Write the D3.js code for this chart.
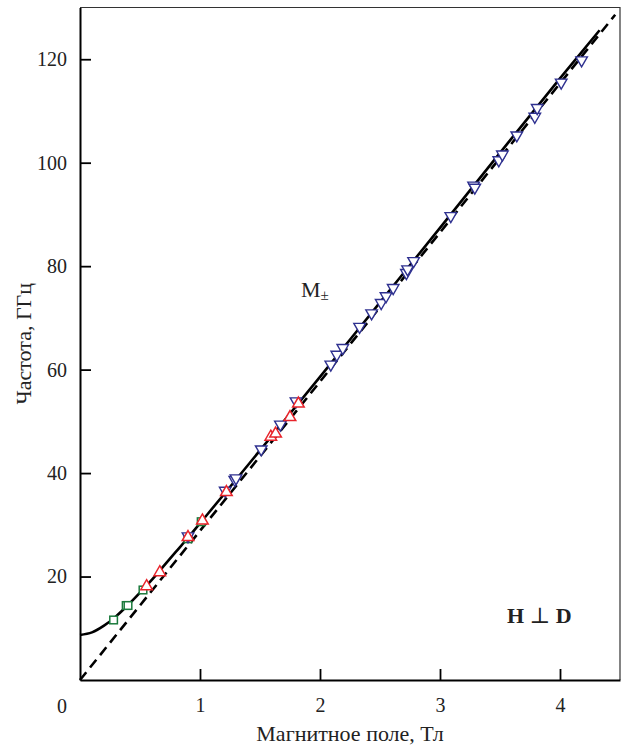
<!DOCTYPE html>
<html>
<head>
<meta charset="utf-8">
<script src="https://cdn.jsdelivr.net/npm/d3@7"></script>
<style>
  body { margin: 0; background: #fff; }
  text { font-family: "Liberation Serif", "DejaVu Serif", serif; }
</style>
</head>
<body>
<svg id="chart" width="623" height="745"></svg>
<script>
// данные
var squareB = [0.28, 0.385, 0.40, 0.525, 0.90, 1.01];
var squareF = [11.6, 14.4, 14.4, 17.4, 27.3, 30.6];

var upB = [0.555, 0.665, 0.90, 1.02, 1.22, 1.59, 1.63, 1.75, 1.82];
var upF = [18.1, 20.8, 27.6, 30.8, 36.3, 47.0, 47.6, 50.8, 53.4];

var downB = [0.90, 1.21, 1.29, 1.30, 1.51, 1.67, 1.80, 2.09, 2.14, 2.19, 2.33, 2.43, 2.51, 2.55,
             2.61, 2.72, 2.73, 2.78, 3.09, 3.28, 3.29, 3.49, 3.52, 3.64, 3.79, 3.81, 4.01, 4.18];
var downF = [27.8, 36.6, 38.7, 39.0, 44.6, 49.4, 53.9, 61.0, 62.9, 64.2, 68.3, 70.9, 72.9, 74.2,
             75.8, 78.7, 79.4, 81.0, 89.7, 95.6, 95.2, 100.5, 101.6, 105.3, 108.9, 110.6, 115.5, 119.8];

// сплошная кривая (теория) и штриховая прямая
var solidB = [0, 0.1, 0.2, 0.3, 0.4, 0.5, 0.6, 0.7, 0.8, 0.9, 1.0, 1.2, 1.5, 2.0, 2.5, 3.0, 3.5, 4.0, 4.33];
var solidF = [8.7, 9.2, 10.5, 12.3, 14.5, 16.9, 19.4, 22.1, 24.8, 27.5, 30.3, 35.9, 44.4, 58.6, 73.0, 87.4, 101.9, 116.3, 125.6];
var dashB = [0, 4.46];
var dashF = [0, 128.6];

var xTicks = [1, 2, 3, 4];
var yTicks = [20, 40, 60, 80, 100, 120];

var svg = d3.select("#chart");
var pLeft = 80, pRight = 620, pTop = 7.5, pBottom = 680;

var x = d3.scaleLinear().domain([0, 4.5]).range([pLeft, pRight]);
var y = d3.scaleLinear().domain([0, 130]).range([pBottom, pTop]);

// рамка сверху и справа
svg.append("path")
    .attr("d", "M" + pLeft + "," + pTop + "H" + pRight + "V" + pBottom)
    .style("fill", "none")
    .style("stroke", "#333")
    .style("stroke-width", 1.2);

// оси
var xAxis = d3.axisBottom(x).tickValues(xTicks).tickSizeInner(-11).tickSizeOuter(0).tickPadding(18).tickFormat(d3.format("d"));
var yAxis = d3.axisLeft(y).tickValues(yTicks).tickSizeInner(-11).tickSizeOuter(0).tickPadding(13).tickFormat(d3.format("d"));

var gx = svg.append("g").attr("transform", "translate(0," + pBottom + ")").call(xAxis);
var gy = svg.append("g").attr("transform", "translate(" + pLeft + ",0)").call(yAxis);

[gx, gy].forEach(function (g) {
    g.select(".domain").style("stroke", "#000").style("stroke-width", 2);
    g.selectAll(".tick line").style("stroke", "#000").style("stroke-width", 1.8);
    g.selectAll(".tick text")
        .style("font-family", "Liberation Serif, serif")
        .style("font-size", "20px")
        .style("fill", "#222");
});

// общий ноль в углу
svg.append("text")
    .attr("x", 62).attr("y", 713)
    .attr("text-anchor", "middle")
    .style("font-size", "20px").style("fill", "#222")
    .text("0");

// линии
var line = d3.line()
    .x(function (d) { return x(d[0]); })
    .y(function (d) { return y(d[1]); });

svg.append("path")
    .datum(solidB.map(function (b, i) { return [b, solidF[i]]; }))
    .attr("d", line.curve(d3.curveMonotoneX))
    .style("fill", "none")
    .style("stroke", "#000")
    .style("stroke-width", 2.6);

svg.append("path")
    .datum(dashB.map(function (b, i) { return [b, dashF[i]]; }))
    .attr("d", d3.line().x(function (d) { return x(d[0]); }).y(function (d) { return y(d[1]); }))
    .style("fill", "none")
    .style("stroke", "#000")
    .style("stroke-width", 2.6)
    .style("stroke-dasharray", "10,6");

// точки
var triUp = d3.symbol().type(d3.symbolTriangle).size(58);
var pts = svg.append("g");

pts.selectAll("rect.sq")
    .data(squareB.map(function (b, i) { return [b, squareF[i]]; }))
    .enter().append("rect")
    .attr("class", "sq")
    .attr("x", function (d) { return x(d[0]) - 3.8; })
    .attr("y", function (d) { return y(d[1]) - 3.8; })
    .attr("width", 7.6).attr("height", 7.6)
    .style("fill", "#fff")
    .style("stroke", "#1a7a3c")
    .style("stroke-width", 1.5);

pts.selectAll("path.down")
    .data(downB.map(function (b, i) { return [b, downF[i]]; }))
    .enter().append("path")
    .attr("class", "down")
    .attr("d", triUp)
    .attr("transform", function (d) { return "translate(" + x(d[0]) + "," + y(d[1]) + ") rotate(180)"; })
    .style("fill", "#fff")
    .style("stroke", "#2f3190")
    .style("stroke-width", 1.4);

pts.selectAll("path.up")
    .data(upB.map(function (b, i) { return [b, upF[i]]; }))
    .enter().append("path")
    .attr("class", "up")
    .attr("d", triUp)
    .attr("transform", function (d) { return "translate(" + x(d[0]) + "," + y(d[1]) + ")"; })
    .style("fill", "#fff")
    .style("stroke", "#e8242b")
    .style("stroke-width", 1.5);

// подписи
var mLab = svg.append("text")
    .attr("x", 301).attr("y", 297)
    .style("font-size", "22px").style("fill", "#222");
mLab.append("tspan").text("M");
mLab.append("tspan").attr("dy", 3).style("font-size", "15px").text("±");

var hd = svg.append("text")
    .attr("x", 507).attr("y", 623)
    .style("font-size", "22px").style("fill", "#222");
hd.append("tspan").style("font-weight", "bold").text("H");
hd.append("tspan").text(" ⊥ ");
hd.append("tspan").style("font-weight", "bold").text("D");

svg.append("text")
    .attr("x", (pLeft + pRight) / 2).attr("y", 741)
    .attr("text-anchor", "middle")
    .style("font-size", "22px").style("fill", "#222")
    .text("Магнитное поле, Тл");

svg.append("text")
    .attr("transform", "translate(31," + (pTop + pBottom) / 2 + ") rotate(-90)")
    .attr("text-anchor", "middle")
    .style("font-size", "22px").style("fill", "#222")
    .text("Частота, ГГц");
</script>
</body>
</html>
